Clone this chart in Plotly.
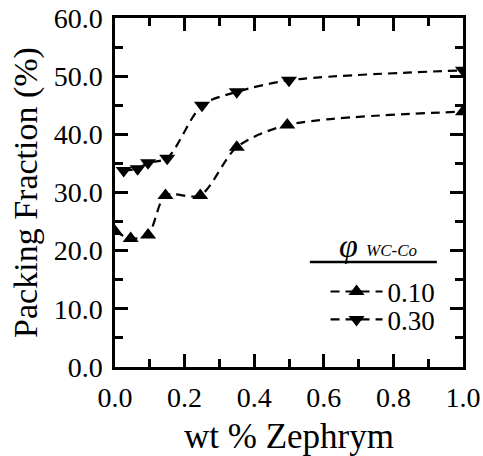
import plotly.graph_objects as go

# Data
x_010 = [0.0, 0.045, 0.095, 0.145, 0.245, 0.35, 0.495, 1.0]
y_010 = [23.3, 22.1, 22.7, 29.5, 29.5, 37.8, 41.6, 43.9]
x_030 = [0.025, 0.065, 0.095, 0.15, 0.25, 0.35, 0.5, 1.0]
y_030 = [33.8, 34.1, 35.1, 35.9, 45.0, 47.3, 49.3, 51.0]
series_names = ["0.10", "0.30"]
x_ticks = [0.0, 0.2, 0.4, 0.6, 0.8, 1.0]
y_ticks = [0, 10, 20, 30, 40, 50, 60]

FONT = "Liberation Serif, Times New Roman, serif"

fig = go.Figure()
fig.add_trace(go.Scatter(
    x=x_010, y=y_010, name=series_names[0], mode="lines+markers", legend="legend",
    showlegend=True,
    line=dict(color="black", width=2.2, dash="9px,6px", shape="spline", smoothing=0.8),
    marker=dict(symbol="triangle-up", size=14, color="black"),
))
fig.add_trace(go.Scatter(
    x=x_030, y=y_030, name=series_names[1], mode="lines+markers", legend="legend2",
    showlegend=True,
    line=dict(color="black", width=2.2, dash="9px,6px", shape="spline", smoothing=0.8),
    marker=dict(symbol="triangle-down", size=14, color="black"),
))

axis_common = dict(
    showline=True, linecolor="black", linewidth=2.5, mirror="ticks",
    ticks="inside", ticklen=13, tickwidth=2.5, tickcolor="black",
    showgrid=False, zeroline=False, automargin=False,
    tickfont=dict(family=FONT, size=28, color="black"),
)

fig.update_xaxes(
    range=[0, 1.0], tickvals=x_ticks, tickformat=".1f",
    minor=dict(ticks="inside", ticklen=8, tickwidth=2.5, tickcolor="black", dtick=0.1),
    title=dict(text="wt % Zephrym", font=dict(family=FONT, size=35, color="black"), standoff=14),
    ticklabelstandoff=4,
    **axis_common,
)
fig.update_yaxes(
    range=[0, 60], tickvals=y_ticks, tickformat=".1f",
    minor=dict(ticks="inside", ticklen=8, tickwidth=2.5, tickcolor="black", dtick=5),
    title=dict(text="Packing Fraction (%)", font=dict(family=FONT, size=34, color="black"), standoff=6),
    ticklabelstandoff=4,
    **axis_common,
)

leg_common = dict(
    xanchor="left", yanchor="middle", bgcolor="rgba(0,0,0,0)",
    font=dict(family=FONT, size=27, color="black"), itemwidth=52,
)

fig.update_layout(
    width=483, height=456,
    margin=dict(l=115, r=20, t=18, b=89),
    paper_bgcolor="white", plot_bgcolor="white",
    font=dict(family=FONT, color="black"),
    showlegend=True,
    legend=dict(x=0.605, y=0.215, **leg_common),
    legend2=dict(x=0.605, y=0.135, **leg_common),
    shapes=[dict(type="line", xref="paper", yref="paper", x0=0.56, x1=0.925, y0=0.301, y1=0.301,
                 line=dict(color="black", width=2.5))],
    annotations=[
        dict(text="<i>φ</i>", xref="paper", yref="paper", x=0.672, y=0.347,
             xanchor="center", yanchor="middle", showarrow=False,
             font=dict(family=FONT, size=34, color="black")),
        dict(text="<i>WC-Co</i>", xref="paper", yref="paper", x=0.795, y=0.335,
             xanchor="center", yanchor="middle", showarrow=False,
             font=dict(family=FONT, size=17, color="black")),
    ],
)

fig.write_html("out.html")
